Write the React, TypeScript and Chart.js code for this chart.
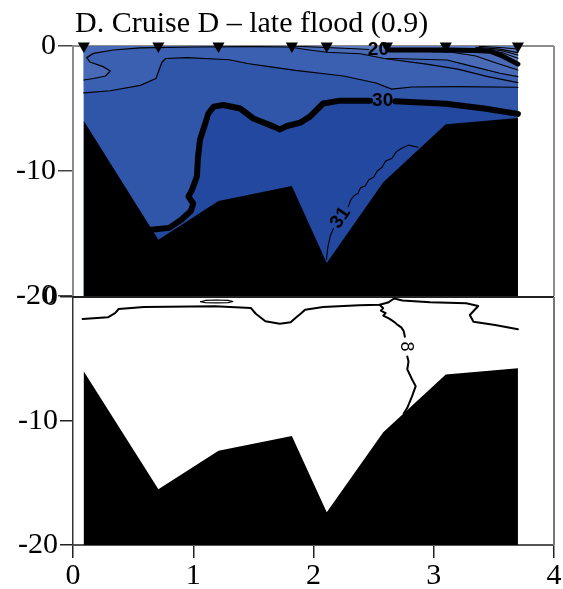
import React, { useEffect, useRef } from 'react';
import { Chart, registerables } from 'chart.js';

Chart.register(...registerables);

// ---------------- data ----------------
const TITLE = 'D. Cruise D – late flood (0.9)';
const X_TICKS = [0, 1, 2, 3, 4];
const Y_TICKS = [0, -10, -20];

// station positions (km) marked by triangles
const STATIONS = [0.09, 0.71, 1.21, 1.82, 2.11, 2.61, 3.1, 3.7];

// bathymetry (km, m)
const BATHY_X = [0.09, 0.71, 1.21, 1.82, 2.11, 2.58, 3.1, 3.7];
const BATHY_Z = [-6.0, -15.5, -12.4, -11.2, -17.35, -10.9, -6.25, -5.75];

// top panel (salinity) contours: [km, depth]
const S_LIGHT = [
  [0.09, -2.72], [0.17, -2.6], [0.27, -2.4], [0.31, -2.0], [0.25, -1.65], [0.14, -1.28],
  [0.114, -0.93], [0.17, -0.59], [0.335, -0.32], [0.56, -0.15], [1.0, -0.08], [1.5, -0.05],
  [1.8, -0.08], [1.95, -0.3], [2.11, -0.5], [2.39, -0.62], [2.58, -0.98], [3.11, -1.12],
  [3.33, -1.65], [3.55, -2.18], [3.7, -2.45],
];
const S_28 = [
  [0.09, -3.75], [0.31, -3.58], [0.56, -3.15], [0.69, -2.6], [0.72, -1.8], [0.74, -1.3],
  [0.77, -1.0], [0.95, -0.93], [1.3, -1.1], [1.45, -1.4], [1.63, -1.65], [1.85, -1.95],
  [2.25, -2.4], [2.52, -2.96], [2.65, -3.45], [2.82, -3.28], [3.2, -3.25], [3.7, -3.3],
];
const S_26R = [[2.6, -1.02], [2.94, -1.45], [3.2, -1.85], [3.45, -2.45], [3.7, -2.93]];
const S_22 = [[2.7, -0.38], [3.15, -0.5], [3.35, -0.8], [3.5, -1.3], [3.7, -1.92]];
const S_20_LEFT = [[1.85, -0.02], [2.1, -0.12], [2.35, -0.22], [2.46, -0.28]];
const S_20_RIGHT = [[2.63, -0.32], [3.11, -0.32], [3.35, -0.36], [3.47, -0.42], [3.56, -0.75], [3.7, -1.45]];
const S_18 = [[3.35, -0.25], [3.56, -0.5], [3.7, -0.98]];
const S_16 = [[3.35, -0.18], [3.56, -0.36], [3.7, -0.72]];
const S_14 = [[3.35, -0.1], [3.55, -0.25], [3.7, -0.53]];
const S_12 = [[3.38, -0.03], [3.55, -0.12], [3.7, -0.24]];
const S_30_LEFT = [
  [0.65, -14.7], [0.8, -14.55], [0.9, -13.9], [0.98, -13.2], [1.0, -12.6], [0.96, -12.05],
  [0.99, -11.5], [1.03, -10.45], [1.04, -8.85], [1.056, -7.5], [1.1, -6.2], [1.125, -5.4],
  [1.17, -4.85], [1.25, -4.72], [1.39, -5.0], [1.5, -5.8], [1.67, -6.45], [1.72, -6.67],
  [1.78, -6.4], [1.89, -6.13], [1.97, -5.65], [2.08, -4.6], [2.22, -4.37], [2.47, -4.38],
];
const S_30_RIGHT = [[2.68, -4.42], [3.1, -4.62], [3.42, -5.0], [3.7, -5.43]];
const S_31_LOW = [[2.107, -17.1], [2.12, -16.05], [2.14, -15.2], [2.165, -14.6]];
const S_31_HIGH = [
  [2.29, -12.85], [2.31, -12.3], [2.34, -11.95], [2.37, -11.8], [2.39, -11.35], [2.43, -11.2],
  [2.46, -10.7], [2.5, -10.5], [2.53, -10.0], [2.57, -9.7], [2.6, -9.2], [2.65, -9.0],
  [2.69, -8.45], [2.73, -8.2], [2.79, -7.93], [2.87, -8.1],
];

// bottom panel contour "8"
const T8_MAIN = [
  [0.08, -1.77], [0.29, -1.64], [0.35, -1.3], [0.38, -0.97], [0.59, -0.81], [1.18, -0.75],
  [1.48, -0.89], [1.52, -1.35], [1.6, -1.96], [1.72, -2.15], [1.81, -2.04], [1.85, -1.69],
  [1.9, -1.29], [1.93, -1.02], [2.08, -0.81], [2.38, -0.67], [2.55, -0.62], [2.62, -0.45],
  [2.67, -0.12], [2.74, -0.28], [2.97, -0.43], [3.27, -0.51], [3.37, -0.73], [3.3, -1.45],
  [3.33, -1.99], [3.51, -2.26], [3.7, -2.6],
];
const T8_UPPER = [
  [2.55, -0.62], [2.58, -0.9], [2.56, -1.1], [2.6, -1.3], [2.58, -1.5], [2.63, -1.75],
  [2.67, -2.0], [2.7, -2.25], [2.73, -2.45], [2.75, -2.75], [2.76, -3.2],
];
const T8_LOWER = [
  [2.78, -4.8], [2.79, -5.2], [2.78, -5.84], [2.82, -6.65], [2.85, -7.19], [2.82, -8.0],
  [2.78, -8.94], [2.75, -9.4],
];
const T8_LOOP = [
  [1.06, -0.38], [1.1, -0.28], [1.19, -0.24], [1.29, -0.27], [1.33, -0.36], [1.29, -0.45],
  [1.19, -0.48], [1.1, -0.46], [1.06, -0.38],
];

// contour labels
const TOP_LABEL_TEXT = ['20', '30', '31'];
const TOP_LABEL_X = [2.54, 2.575, 2.225];
const TOP_LABEL_Y = [-0.32, -4.42, -13.75];
const TOP_LABEL_ROT = [0, 0, -56];
const BOT_LABEL_TEXT = ['8'];
const BOT_LABEL_X = [2.77];
const BOT_LABEL_Y = [-4.0];
const BOT_LABEL_ROT = [90];

// ---------------- helpers ----------------
const SERIF = '"Liberation Serif", "Times New Roman", serif';
const SANS = '"Liberation Sans", Arial, sans-serif';

type P = number[];
const xy = (pts: P[]) => pts.map(([x, y]) => ({ x, y }));
const surfaceCap = (pts: P[]): P[] => [[pts[0][0], 0], [pts[pts.length - 1][0], 0], ...pts.slice().reverse()];

const bathyPoly = (): P[] => {
  const pts: P[] = BATHY_X.map((x, i) => [x, BATHY_Z[i]]);
  return [...pts, [BATHY_X[BATHY_X.length - 1], -20], [BATHY_X[0], -20]];
};

const area = (pts: P[], color: string, order: number) => ({
  data: xy(pts),
  showLine: true,
  fill: 'shape',
  backgroundColor: color,
  borderColor: 'rgba(0,0,0,0)',
  borderWidth: 0,
  pointRadius: 0,
  order,
});
const contour = (pts: P[], width: number, order: number) => ({
  data: xy(pts),
  showLine: true,
  fill: false,
  borderColor: '#000',
  borderWidth: width,
  borderJoinStyle: 'round',
  borderCapStyle: 'round',
  pointRadius: 0,
  order,
});

const labelPlugin = (id: string, texts: string[], xs: number[], ys: number[], rots: number[], font: string) => ({
  id,
  afterDatasetsDraw(chart: any) {
    const { ctx, scales } = chart;
    ctx.save();
    ctx.font = font;
    ctx.fillStyle = '#000';
    ctx.textAlign = 'center';
    ctx.textBaseline = 'middle';
    texts.forEach((t, i) => {
      const px = scales.x.getPixelForValue(xs[i]);
      const py = scales.y.getPixelForValue(ys[i]);
      ctx.save();
      ctx.translate(px, py);
      ctx.rotate((rots[i] * Math.PI) / 180);
      ctx.fillText(t, 0, 0);
      ctx.restore();
    });
    ctx.restore();
  },
});

const framePlugin = (id: string, sides: string[], color: string, width: number) => ({
  id,
  beforeDatasetsDraw(chart: any) {
    const { ctx, chartArea: a } = chart;
    ctx.save();
    ctx.strokeStyle = color;
    ctx.lineWidth = width;
    ctx.beginPath();
    if (sides.includes('top')) { ctx.moveTo(a.left, a.top); ctx.lineTo(a.right, a.top); }
    if (sides.includes('right')) { ctx.moveTo(a.right, a.top); ctx.lineTo(a.right, a.bottom); }
    ctx.stroke();
    ctx.restore();
  },
});

const titlePlugin = {
  id: 'panelTitle',
  afterDraw(chart: any) {
    const { ctx } = chart;
    ctx.save();
    ctx.font = `30px ${SERIF}`;
    ctx.fillStyle = '#000';
    ctx.textAlign = 'left';
    ctx.textBaseline = 'alphabetic';
    ctx.fillText(TITLE, 75, 32);
    ctx.restore();
  },
};

const yTickLabel = (v: any) => (Y_TICKS.includes(v) ? String(v) : '');
const xTickLabel = (v: any) => (X_TICKS.includes(v) ? String(v) : '');

const baseOptions = {
  animation: false,
  responsive: false,
  maintainAspectRatio: false,
  events: [],
  plugins: { legend: { display: false }, tooltip: { enabled: false }, title: { display: false } },
  elements: { line: { tension: 0 } },
};

function topConfig(): any {
  const c30 = [...S_30_LEFT, ...S_30_RIGHT];
  const midPoly: P[] = [[0.09, 0], [3.7, 0], ...c30.slice().reverse(), [0.65, -20], [0.09, -20]];
  const c20 = [...S_20_LEFT, ...S_20_RIGHT];
  return {
    type: 'line',
    data: {
      datasets: [
        area([[STATIONS[0], 0], [STATIONS[STATIONS.length - 1], 0], [STATIONS[STATIONS.length - 1], -20], [STATIONS[0], -20]], '#2348a0', 20),
        area(midPoly, '#2f56a9', 19),
        area(surfaceCap(S_28), '#3b5fb1', 18),
        area(surfaceCap(S_LIGHT), '#496ab7', 17),
        area(surfaceCap(c20), '#5c7bc1', 16),
        contour(S_28, 1.2, 6),
        contour(S_LIGHT, 1.2, 6),
        contour(S_26R, 1.2, 6),
        contour(S_22, 1.2, 6),
        contour(S_20_LEFT, 1.2, 6),
        contour(S_18, 1.2, 6),
        contour(S_16, 1.2, 6),
        contour(S_14, 1.2, 6),
        contour(S_12, 1.2, 6),
        contour(S_31_LOW, 1.1, 6),
        contour(S_31_HIGH, 1.1, 6),
        contour(S_20_RIGHT, 5, 5),
        contour(S_30_LEFT, 6, 5),
        contour(S_30_RIGHT, 6, 5),
        area(bathyPoly(), '#000', 3),
        {
          data: STATIONS.map((x) => ({ x, y: 0 })),
          showLine: false,
          pointStyle: 'triangle',
          pointRotation: 180,
          pointRadius: 7,
          pointBackgroundColor: '#000',
          pointBorderWidth: 0,
          clip: false,
          order: 1,
        },
      ],
    },
    options: {
      ...baseOptions,
      layout: { padding: { top: 46, right: 9, bottom: 24, left: 0 } },
      scales: {
        x: { type: 'linear', min: 0, max: 4, display: false },
        y: {
          type: 'linear',
          min: -20,
          max: 0,
          afterFit: (s: any) => { s.width = 73; },
          ticks: { stepSize: 10, color: '#000', padding: 2, font: { size: 30, family: SERIF }, callback: yTickLabel },
          grid: { drawOnChartArea: false, drawTicks: true, tickLength: 15, color: '#444', lineWidth: 1.5 },
          border: { display: true, color: '#8c8c8c', width: 2 },
        },
      },
    },
    plugins: [
      framePlugin('topFrame', ['top', 'right'], '#8c8c8c', 2),
      labelPlugin('topLabels', TOP_LABEL_TEXT, TOP_LABEL_X, TOP_LABEL_Y, TOP_LABEL_ROT, `bold 19px ${SANS}`),
      titlePlugin,
    ],
  };
}

function bottomConfig(): any {
  return {
    type: 'line',
    data: {
      datasets: [
        contour(T8_MAIN, 2, 6),
        contour(T8_UPPER, 2, 6),
        contour(T8_LOWER, 2, 6),
        contour(T8_LOOP, 1.2, 6),
        area(bathyPoly(), '#000', 3),
      ],
    },
    options: {
      ...baseOptions,
      layout: { padding: { top: 22, right: 9, bottom: 0, left: 0 } },
      scales: {
        x: {
          type: 'linear',
          min: 0,
          max: 4,
          afterFit: (s: any) => { s.height = 44; },
          ticks: { stepSize: 1, color: '#000', padding: 0, maxRotation: 0, autoSkip: false, font: { size: 30, family: SERIF }, callback: xTickLabel },
          grid: { drawOnChartArea: false, drawTicks: true, tickLength: 13, color: '#222', lineWidth: 1.5 },
          border: { display: true, color: '#555', width: 2 },
        },
        y: {
          type: 'linear',
          min: -20,
          max: 0,
          afterFit: (s: any) => { s.width = 73; },
          ticks: { stepSize: 10, color: '#000', padding: 2, font: { size: 30, family: SERIF }, callback: yTickLabel },
          grid: { drawOnChartArea: false, drawTicks: true, tickLength: 13, color: '#222', lineWidth: 1.5 },
          border: { display: true, color: '#333', width: 1.5 },
        },
      },
    },
    plugins: [
      framePlugin('botFrame', ['top'], '#222', 2),
      framePlugin('botFrameR', ['right'], '#777', 2),
      labelPlugin('botLabels', BOT_LABEL_TEXT, BOT_LABEL_X, BOT_LABEL_Y, BOT_LABEL_ROT, `18px ${SANS}`),
    ],
  };
}

export default function App() {
  const topRef = useRef<HTMLCanvasElement>(null);
  const botRef = useRef<HTMLCanvasElement>(null);
  useEffect(() => {
    const top = new Chart(topRef.current as HTMLCanvasElement, topConfig());
    const bot = new Chart(botRef.current as HTMLCanvasElement, bottomConfig());
    return () => {
      top.destroy();
      bot.destroy();
    };
  }, []);
  return (
    <div style={{ position: 'absolute', left: 0, top: 0, width: 563, height: 589, background: '#fff', overflow: 'hidden' }}>
      <canvas ref={topRef} width={563} height={320} style={{ position: 'absolute', left: 0, top: 0 }} />
      <canvas ref={botRef} width={563} height={314} style={{ position: 'absolute', left: 0, top: 275 }} />
    </div>
  );
}
